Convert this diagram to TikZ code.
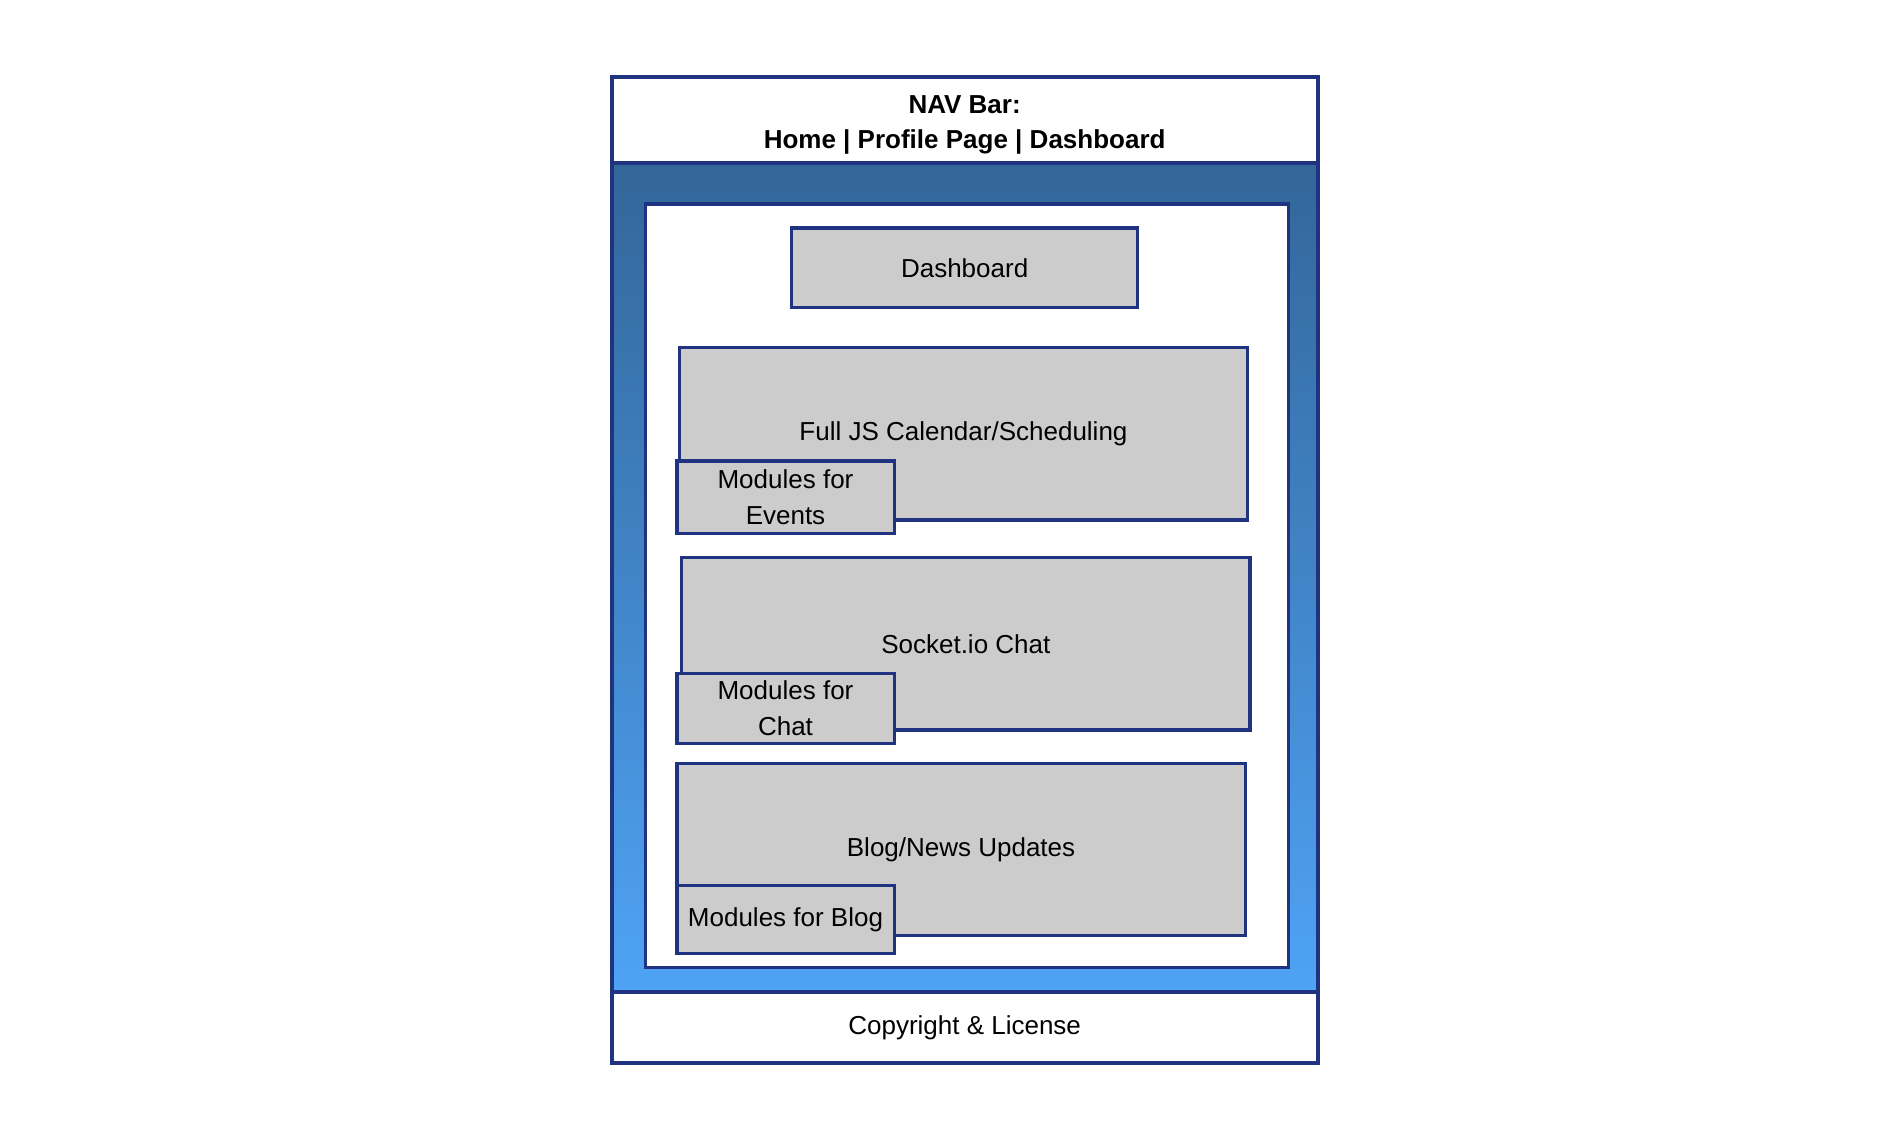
\documentclass[tikz,border=0pt]{standalone}
\usepackage{fontspec}
\setmainfont{Liberation Sans}
\definecolor{navy}{RGB}{31,51,128}
\definecolor{boxgray}{RGB}{204,204,204}
\definecolor{gtop}{RGB}{51,102,153}
\definecolor{gbot}{RGB}{79,163,245}
\tikzset{
  basebox/.style={draw=navy, inner sep=0pt, align=center, font=\fontsize{26}{35.5}\selectfont},
  framebox/.style={basebox, line width=4pt, fill=white},
  innerbox/.style={basebox, line width=3.5pt, fill=white},
  graybox/.style={basebox, line width=3.2pt, fill=boxgray},
  plaintext/.style={inner sep=0pt, align=center, font=\fontsize{26}{35.5}\selectfont},
}
\begin{document}
\begin{tikzpicture}[x=1pt,y=-1pt]
\useasboundingbox (0,0) rectangle (1892,1120);
% gradient body
\node[basebox, line width=4pt, top color=gtop, bottom color=gbot, minimum width=705.9pt, minimum height=828.9pt] (body) at (964.65,577.35) {};
% nav bar and footer
\node[framebox, minimum width=705.9pt, minimum height=85.7pt] (nav) at (964.65,120.05) {};
\node[plaintext, yshift=-5pt] (navtext) at (nav.center) {\textbf{NAV Bar:}\\\textbf{Home | Profile Page | Dashboard}};
\node[framebox, minimum width=705.9pt, minimum height=71.2pt] (footer) at (964.65,1027.4) {Copyright \& License};
% inner white panel
\node[innerbox, minimum width=643.1pt, minimum height=763.8pt] (panel) at (967.05,585.8) {};
% content boxes
\node[graybox, minimum width=346.3pt, minimum height=79.7pt] (dash) at (964.65,267.85) {Dashboard};
\node[graybox, minimum width=568.3pt, minimum height=172.5pt] (cal) at (963.45,433.75) {Full JS Calendar/Scheduling};
\node[graybox, minimum width=217.2pt, minimum height=72.4pt] (modevents) at (785.5,497.1) {Modules for\\Events};
\node[graybox, minimum width=568.2pt, minimum height=172.6pt] (chat) at (965.8,643.7) {Socket.io Chat};
\node[graybox, minimum width=217.2pt, minimum height=70pt] (modchat) at (785.5,708.3) {Modules for\\Chat};
\node[graybox, minimum width=568.3pt, minimum height=171.3pt] (blog) at (961.05,849.45) {Blog/News Updates};
\node[graybox, minimum width=217.2pt, minimum height=67.6pt] (modblog) at (785.5,919.4) {Modules for Blog};
\end{tikzpicture}
\end{document}
